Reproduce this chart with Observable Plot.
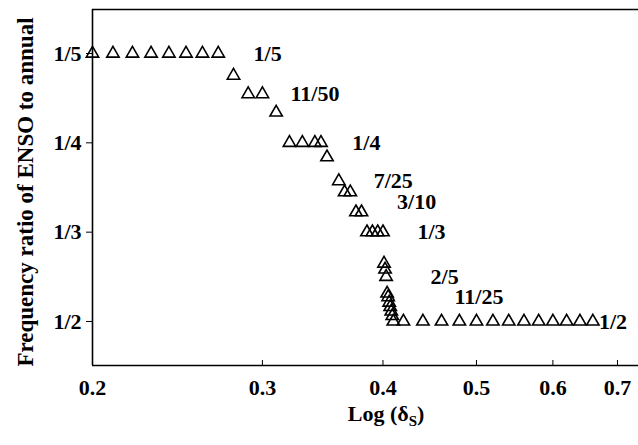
<!DOCTYPE html>
<html>
<head>
<meta charset="utf-8">
<script src="https://cdn.jsdelivr.net/npm/d3@7"></script>
<script src="https://cdn.jsdelivr.net/npm/@observablehq/plot@0.6"></script>
<style>
  html, body { margin: 0; padding: 0; background: #fff; }
</style>
</head>
<body>
<div id="chart"></div>
<script>
// Parameter δS of each run (plotted on a log axis)
const delta = [
  0.20, 0.21, 0.22, 0.23, 0.24, 0.25, 0.26, 0.27,
  0.28, 0.29, 0.30, 0.31,
  0.32, 0.33, 0.34, 0.345,
  0.35, 0.36, 0.365, 0.37, 0.375, 0.38,
  0.385, 0.39, 0.395, 0.40,
  0.401, 0.402, 0.403,
  0.404, 0.405, 0.406, 0.407, 0.408, 0.409,
  0.41, 0.42, 0.44, 0.46, 0.48, 0.50, 0.52, 0.54, 0.56, 0.58, 0.60, 0.62, 0.64, 0.66
];
// Frequency ratio of ENSO to the annual cycle for each run
const ratio = [
  1/5, 1/5, 1/5, 1/5, 1/5, 1/5, 1/5, 1/5,
  0.2104, 11/50, 11/50, 0.2304,
  1/4, 1/4, 1/4, 1/4,
  0.2605, 7/25, 0.2901, 0.2901, 0.3102, 0.3102,
  1/3, 1/3, 1/3, 1/3,
  0.3775, 0.3873, 2/5,
  0.4323, 11/25, 0.452, 0.4625, 0.4735, 0.4851,
  1/2, 1/2, 1/2, 1/2, 1/2, 1/2, 1/2, 1/2, 1/2, 1/2, 1/2, 1/2, 1/2, 1/2
];

// Axis ticks
const xTicks = [0.2, 0.3, 0.4, 0.5, 0.6, 0.7];
const yTicks = [1/5, 1/4, 1/3, 1/2];
const yTickLabels = ["1/5", "1/4", "1/3", "1/2"];

// Locked ratios named beside the steps, and where along δS each name starts
const stepNames = ["1/5", "11/50", "1/4", "7/25", "3/10", "1/3", "2/5", "11/25", "1/2"];
const stepNameDelta = [0.2937, 0.3208, 0.3718, 0.3913, 0.4137, 0.4343, 0.4481, 0.4745, 0.6696];

const points = delta.map((d, i) => ({delta: d, ratio: ratio[i]}));
const steps = stepNames.map((t, i) => {
  const [a, b] = t.split("/").map(Number);
  return {name: t, delta: stepNameDelta[i], ratio: a / b};
});

// The vertical axis is linear in the period ratio, i.e. the reciprocal of the frequency ratio
const period = r => 1 / r;
const tickLabel = p => yTickLabels[yTicks.findIndex(r => Math.abs(period(r) - p) < 1e-9)];

const xDomain = [0.2, 0.736];
const yDomain = [1.507, 5.493];
const serif = "'Liberation Serif', 'Times New Roman', serif";

const chart = Plot.plot({
  width: 638,
  height: 445,
  marginLeft: 92,
  marginRight: 0,
  marginTop: 9,
  marginBottom: 80,
  style: {fontFamily: serif, fontSize: "22px", fontWeight: "bold", color: "#000", background: "#fff"},
  x: {type: "log", domain: xDomain},
  y: {domain: yDomain},
  marks: [
    Plot.ruleX([xDomain[0]], {stroke: "#000", strokeWidth: 1.6}),
    Plot.ruleY([yDomain[0], yDomain[1]], {stroke: "#000", strokeWidth: 1.6}),
    Plot.axisX({ticks: xTicks, tickFormat: d3.format(".1f"), tickSize: -5, tickPadding: 19, label: null, fontSize: 22, fontWeight: "bold"}),
    Plot.axisY({ticks: yTicks.map(period), tickFormat: tickLabel, tickSize: 6, tickPadding: 5, label: null, fontSize: 22, fontWeight: "bold"}),
    Plot.dot(points, {x: "delta", y: d => period(d.ratio), symbol: "triangle", r: 4.6, fill: "none", stroke: "#000", strokeWidth: 1.6}),
    Plot.text(steps, {x: "delta", y: d => period(d.ratio), text: "name", textAnchor: "start", fontSize: 22, fontWeight: "bold"})
  ]
});

document.getElementById("chart").appendChild(chart);

// Axis titles
const svg = d3.select(chart);
svg.append("text")
  .attr("transform", "translate(25,192) rotate(-90)")
  .attr("text-anchor", "middle")
  .attr("dominant-baseline", "central")
  .style("font-size", "23px")
  .style("font-weight", "bold")
  .text("Frequency ratio of ENSO to annual");

const xTitle = svg.append("text")
  .attr("x", 386)
  .attr("y", 421)
  .attr("text-anchor", "middle")
  .style("font-size", "22px")
  .style("font-weight", "bold");
xTitle.append("tspan").text("Log (δ");
xTitle.append("tspan").attr("dy", 5).style("font-size", "15px").text("S");
xTitle.append("tspan").attr("dy", -5).text(")");
</script>
</body>
</html>
